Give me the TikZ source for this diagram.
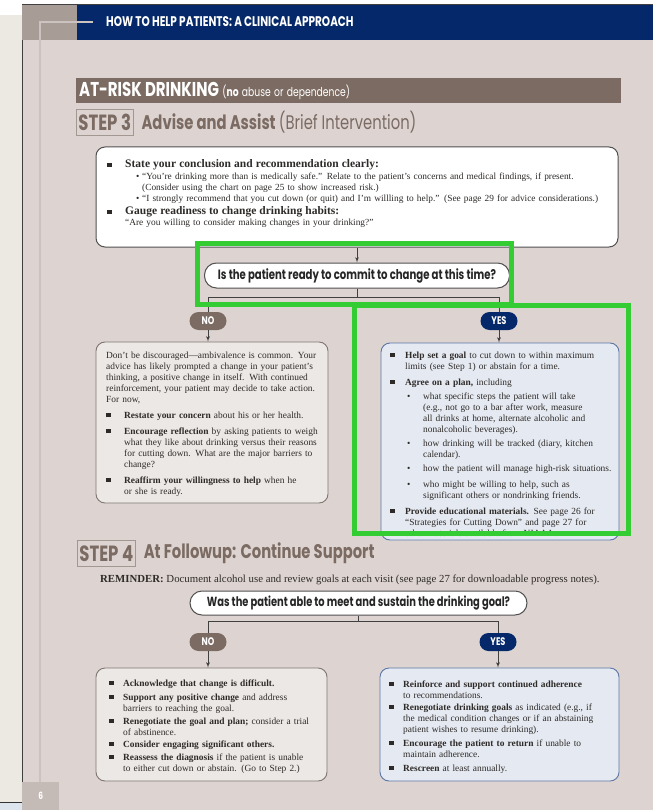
\documentclass[tikz,border=0pt]{standalone}
\usepackage{fontspec}
\setmainfont{Liberation Serif}
\newfontfamily\condfont[FakeStretch=0.75]{Poppins}
\usepackage{tikz}
\usetikzlibrary{shapes,arrows}
\usetikzlibrary{calc}
\usetikzlibrary{positioning}
\usepackage{xcolor}

\definecolor{pagebg}{RGB}{221,212,209}
\definecolor{outside}{RGB}{236,232,226}
\definecolor{navyhead}{RGB}{4,40,105}
\definecolor{brownbar}{RGB}{123,107,99}
\definecolor{graysq}{RGB}{168,156,151}
\definecolor{thinline}{RGB}{204,195,192}
\definecolor{numbox}{RGB}{196,186,182}
\definecolor{nofill}{RGB}{236,232,229}
\definecolor{noedge}{RGB}{128,118,113}
\definecolor{yesfill}{RGB}{229,233,241}
\definecolor{yesedge}{RGB}{92,118,166}
\definecolor{boxedge}{RGB}{80,80,80}
\definecolor{bodytext}{RGB}{45,42,40}
\definecolor{markgreen}{RGB}{51,204,51}
\definecolor{bottomblue}{RGB}{220,228,238}

\newlength{\hangw}\newlength{\dotx}\newlength{\dotw}
\newcommand{\sqbul}{\rule[0.8pt]{4.6pt}{4.4pt}}
\newcommand{\gap}[1]{\par\vspace{#1}}
\newcommand{\sqitem}[1]{\noindent\hangindent=\hangw\hangafter=1\makebox[\hangw][l]{\sqbul}#1}
\newcommand{\dotitem}[1]{\noindent\hangindent=\dotw\hangafter=1\hspace*{\dotx}\makebox[\dimexpr\dotw-\dotx\relax][l]{\textbullet}#1}

\begin{document}
\begin{tikzpicture}[x=1pt, y=-1pt, >=latex',
  block/.style={draw=noedge, fill=nofill, line width=0.9pt, rounded corners=9pt, inner sep=0pt},
  yesblock/.style={block, draw=yesedge, fill=yesfill},
  adviseblock/.style={block, draw=boxedge, fill=white, line width=1pt},
  boxtext/.style={inner sep=0pt, text width=300pt, align=left, text=bodytext, font=\fontsize{9.4}{11}\selectfont},
  question/.style={draw=boxedge, fill=white, line width=1pt, rounded corners=12pt, minimum height=25pt, inner sep=0pt, text=black!85, font=\condfont\bfseries\fontsize{13.5}{15}\selectfont},
  answer/.style={fill=brownbar, rounded corners=9pt, minimum width=37pt, minimum height=18pt, inner sep=0pt, text=white, font=\condfont\bfseries\fontsize{11}{12}\selectfont},
  yesanswer/.style={answer, fill=navyhead},
  stepbox/.style={draw=brownbar!70, line width=0.8pt, text=brownbar, inner xsep=2pt, inner ysep=0pt, minimum height=26pt, font=\condfont\bfseries\fontsize{22}{24}\selectfont},
  steptitle/.style={text=brownbar, inner sep=0pt, font=\condfont\bfseries\fontsize{19.7}{22}\selectfont},
  link/.style={draw=black!75, line width=0.8pt},
  greenbox/.style={draw=markgreen, line width=5pt}]
    % page and margins
    \useasboundingbox (0,0) rectangle (653,810);
    \fill[white] (0,0) rectangle (653,810);
    \fill[outside] (0,15) rectangle (22,802);
    \fill[bottomblue] (0,802) rectangle (22,810);
    \draw[black!80, line width=1pt] (0,802) -- (22,802);
    \fill[pagebg] (22,5) rectangle (653,810);
    \draw[black!75, line width=1pt] (22,810) -- (22,5) -- (653,5);
    \fill[graysq] (22,5) rectangle (77,40);
    \fill[navyhead] (77,5) rectangle (653,40);
    \draw[thinline, line width=1.5pt] (40,782) -- (40,22) -- (93,22);
    \node[fill=numbox, minimum width=37pt, minimum height=28pt, inner sep=0pt, anchor=north west, text=white, font=\condfont\bfseries\fontsize{10}{11}\selectfont] (pagenum) at (22,782) {6};

    % headings
    \node[anchor=west, inner sep=0pt, text=white, font=\condfont\bfseries\fontsize{14}{16}\selectfont] (header) at (106,22) {HOW TO HELP PATIENTS: A CLINICAL APPROACH};
    \node[fill=brownbar, anchor=west, minimum width=545pt, minimum height=25pt, text width=539pt, inner xsep=3pt, inner ysep=0pt, align=left, text=white] (atrisk) at (76,90.5) {{\condfont\bfseries\fontsize{20}{22}\selectfont AT-RISK DRINKING} {\condfont\fontsize{12.3}{14}\selectfont(\textbf{no} abuse or dependence)}};
    \node[stepbox, anchor=west] (step3) at (76,122) {STEP 3};
    \node[steptitle, right=8pt of step3] (step3title) {Advise and Assist {\mdseries(Brief Intervention)}};

    % step 3 blocks
    \node[adviseblock, minimum width=522pt, minimum height=100pt] (advise) at (357,197) {};
    \node[boxtext, anchor=base west, text width=500pt, font=\fontsize{9.35}{11}\selectfont] (advisetext) at (107,168) {%
      \setlength{\hangw}{18pt}\setlength{\dotx}{29pt}\setlength{\dotw}{35pt}%
      \sqitem{{\fontsize{11.5}{12}\selectfont\bfseries State your conclusion and recommendation clearly:}}
      \gap{1pt}\dotitem{``You're drinking more than is medically safe.'' Relate to the patient's concerns and medical findings, if present.\newline(Consider using the chart on page 25 to show increased risk.)}
      \gap{0pt}\dotitem{``I strongly recommend that you cut down (or quit) and I'm willling to help.'' (See page 29 for advice considerations.)}
      \gap{2pt}\sqitem{{\fontsize{11.5}{12}\selectfont\bfseries Gauge readiness to change drinking habits:}}
      \gap{0pt}\noindent\hspace*{18pt}``Are you willing to consider making changes in your drinking?''\par};

    \node[question, minimum width=305pt] (q1) at (357,275.5) {Is the patient ready to commit to change at this time?};
    \node[answer] (no1) at (208,321) {NO};
    \node[yesanswer] (yes1) at (499,321) {YES};

    \node[block, minimum width=232pt, minimum height=161pt] (nobox1) at (212,422.5) {};
    \node[boxtext, anchor=base west] (notext1) at (106,358) {\setlength{\hangw}{18pt}%
      \noindent Don't be discouraged---ambivalence is common. Your\newline advice has likely prompted a change in your patient's\newline thinking, a positive change in itself. With continued\newline reinforcement, your patient may decide to take action.\newline For now,
      \gap{5pt}\sqitem{\textbf{Restate your concern} about his or her health.}
      \gap{5pt}\sqitem{\textbf{Encourage reflection} by asking patients to weigh\newline what they like about drinking versus their reasons\newline for cutting down. What are the major barriers to\newline change?}
      \gap{5pt}\sqitem{\textbf{Reaffirm your willingness to help} when he\newline or she is ready.}\par};

    \node[yesblock, minimum width=238pt, minimum height=197pt] (yesbox1) at (500,441.5) {};
    \node[boxtext, anchor=base west] (yestext1) at (390,358) {%
      \setlength{\hangw}{15pt}\setlength{\dotx}{17pt}\setlength{\dotw}{33pt}%
      \sqitem{\textbf{Help set a goal} to cut down to within maximum\newline limits (see Step 1) or abstain for a time.}
      \gap{5pt}\sqitem{\textbf{Agree on a plan,} including}
      \gap{3pt}\dotitem{what specific steps the patient will take\newline (e.g., not go to a bar after work, measure\newline all drinks at home, alternate alcoholic and\newline nonalcoholic beverages).}
      \gap{3pt}\dotitem{how drinking will be tracked (diary, kitchen\newline calendar).}
      \gap{3pt}\dotitem{how the patient will manage high-risk situations.}
      \gap{5pt}\dotitem{who might be willing to help, such as\newline significant others or nondrinking friends.}
      \gap{5pt}\sqitem{\textbf{Provide educational materials.} See page 26 for\newline ``Strategies for Cutting Down'' and page 27 for\newline other materials available from NIAAA.}\par};

    % step 4
    \node[stepbox, anchor=west] (step4) at (77,553.5) {STEP 4};
    \node[steptitle, right=8pt of step4] (step4title) {At Followup: Continue Support};
    \node[inner sep=0pt, anchor=base west, text=bodytext, font=\fontsize{10.8}{12}\selectfont] (reminder) at (100,582) {\textbf{REMINDER:} Document alcohol use and review goals at each visit (see page 27 for downloadable progress notes).};

    \node[question, minimum width=337pt, minimum height=24pt, font=\condfont\bfseries\fontsize{13.2}{15}\selectfont] (q2) at (358.5,603) {Was the patient able to meet and sustain the drinking goal?};
    \node[answer] (no2) at (208,642) {NO};
    \node[yesanswer] (yes2) at (498,642) {YES};

    \node[block, minimum width=231pt, minimum height=113pt] (nobox2) at (211.5,724.5) {};
    \node[boxtext, anchor=base west] (notext2) at (109,686) {\setlength{\hangw}{14pt}%
      \sqitem{\textbf{Acknowledge that change is difficult.}}
      \gap{3pt}\sqitem{\textbf{Support any positive change} and address\newline barriers to reaching the goal.}
      \gap{2pt}\sqitem{\textbf{Renegotiate the goal and plan;} consider a trial\newline of abstinence.}
      \gap{1pt}\sqitem{\textbf{Consider engaging significant others.}}
      \gap{2pt}\sqitem{\textbf{Reassess the diagnosis} if the patient is unable\newline to either cut down or abstain. (Go to Step 2.)}\par};

    \node[yesblock, minimum width=239pt, minimum height=113pt] (yesbox2) at (499.5,724.5) {};
    \node[boxtext, anchor=base west] (yestext2) at (389,687) {\setlength{\hangw}{14pt}%
      \sqitem{\textbf{Reinforce and support continued adherence}\newline to recommendations.}
      \gap{1pt}\sqitem{\textbf{Renegotiate drinking goals} as indicated (e.g., if\newline the medical condition changes or if an abstaining\newline patient wishes to resume drinking).}
      \gap{3pt}\sqitem{\textbf{Encourage the patient to return} if unable to\newline maintain adherence.}
      \gap{3pt}\sqitem{\textbf{Rescreen} at least annually.}\par};

    % connectors
    \draw[link,->] (advise.south) -- (q1.north);
    \draw[link] (q1.south) -- ++(0,9) coordinate (split1);
    \draw[link] (split1) -| (no1.north);
    \draw[link] (split1) -| (yes1.north);
    \draw[link,->] (no1.south) -- (no1.south |- nobox1.north);
    \draw[link,->] (yes1.south) -- (yes1.south |- yesbox1.north);
    \draw[link] (q2.south) -- ++(0,6) coordinate (split2);
    \draw[link] (split2) -| (no2.north);
    \draw[link] (split2) -| (yes2.north);
    \draw[link,->] (no2.south) -- (no2.south |- nobox2.north);
    \draw[link,->] (yes2.south) -- (yes2.south |- yesbox2.north);

    % highlight frames
    \draw[greenbox] (197.5,243.5) rectangle (511.5,304.5);
    \draw[greenbox] (354.5,305.5) rectangle (628.5,533.5);
\end{tikzpicture}
\end{document}
